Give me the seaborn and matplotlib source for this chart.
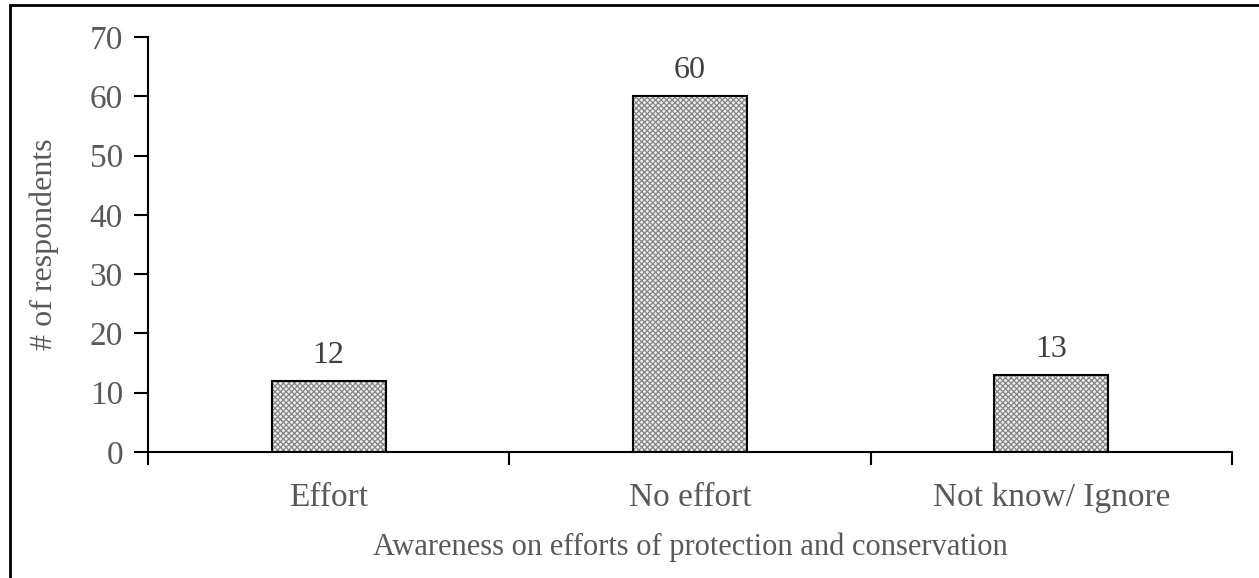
import matplotlib
matplotlib.use("Agg")
import matplotlib.pyplot as plt
import seaborn as sns
import pandas as pd
from matplotlib.patches import Rectangle

categories = ["Effort", "No effort", "Not know/ Ignore"]
respondents = [12, 60, 13]
yticks = [0, 10, 20, 30, 40, 50, 60, 70]

sns.set_theme(style="white")
plt.rcParams['font.family'] = ['Liberation Serif', 'DejaVu Serif']
plt.rcParams['hatch.linewidth'] = 0.9

df = pd.DataFrame({"cat": categories, "val": respondents})

fig = plt.figure(figsize=(12.59, 5.78), dpi=100)
ax = fig.add_axes([148/1259, 1-452/578, (1232-148)/1259, (452-37)/578])

sns.barplot(data=df, x="cat", y="val", ax=ax, color="white", width=0.316,
            edgecolor="black", linewidth=1.5, saturation=1)
for p in list(ax.patches):
    x, y = p.get_xy()
    w, h = p.get_width(), p.get_height()
    p.set_hatch('xxxxxx')
    p.set_facecolor('#eeeeee')
    p.set_edgecolor('#858585')
    p.set_linewidth(0)
    ax.add_patch(Rectangle((x, y), w, h, fill=False, edgecolor='black',
                           linewidth=1.5, zorder=p.get_zorder() + 0.1))

ax.set_xlim(-0.5, 2.5)
ax.set_ylim(0, 70)
ax.set_yticks(yticks)
ax.set_yticklabels([str(v) for v in yticks])
ax.set_xticks([0, 1, 2])
ax.set_xticks([-0.5, 0.5, 1.5, 2.5], minor=True)

txtc = '#595959'
ax.tick_params(axis='y', which='major', direction='out', length=10, width=1.5,
               color='black', labelsize=24, labelcolor=txtc, pad=8, left=True)
ax.tick_params(axis='x', which='major', length=0, labelsize=24, labelcolor=txtc, pad=22)
ax.tick_params(axis='x', which='minor', direction='out', length=9, width=1.5,
               color='black', bottom=True)

for s in ['top', 'right']:
    ax.spines[s].set_visible(False)
for s in ['left', 'bottom']:
    ax.spines[s].set_color('black')
    ax.spines[s].set_linewidth(1.5)

for i, v in enumerate(respondents):
    ax.text(i, v + 4.3, str(v), ha='center', va='center', fontsize=23, color='#404040')

ax.set_xlabel("Awareness on efforts of protection and conservation", fontsize=22,
              color=txtc, labelpad=14)
ax.set_ylabel("# of respondents", fontsize=23, color=txtc, labelpad=22)

fig.patches.append(Rectangle((10.5/1259, -0.1), 1.2, 1 - 5.5/578 + 0.1,
                             transform=fig.transFigure, fill=False,
                             edgecolor='black', linewidth=2))

fig.savefig("out.png", dpi=100)
